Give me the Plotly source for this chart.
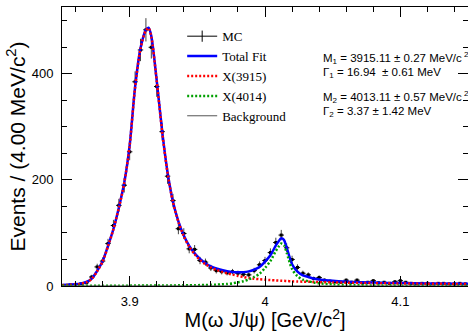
import plotly.graph_objects as go

# ---------------- data ----------------
bin_centers = [round(3.852 + 0.004 * k, 3) for k in range(75)]
mc_counts = [1, 2, 3, 4, 6, 17, 36, 47, 80, 114,
             152, 190, 253, 385, 445, 483, 450, 376, 291, 207,
             161, 108, 99, 70, 69, 48, 45, 34, 29, 27,
             25, 27, 24, 22, 21, 29, 40, 48, 63, 82,
             96, 72, 50, 35, 24, 21, 14, 16, 11, 9,
             8, 7, 11, 7, 11, 6, 7, 10, 6, 7,
             5, 8, 10, 7, 5, 4, 5, 5, 4, 5,
             5, 4, 4, 5, 4]

curve_x = [3.850, 3.856, 3.862, 3.868, 3.872, 3.876, 3.880, 3.884, 3.888, 3.892,
           3.896, 3.900, 3.904, 3.908, 3.912, 3.914, 3.916, 3.920, 3.924, 3.928,
           3.932, 3.936, 3.940, 3.944, 3.948, 3.952, 3.956, 3.960, 3.964, 3.968,
           3.972, 3.976, 3.980, 3.984, 3.988, 3.992, 3.996, 4.000, 4.004, 4.008,
           4.010, 4.012, 4.014, 4.016, 4.020, 4.024, 4.028, 4.032, 4.036, 4.040,
           4.050, 4.060, 4.080, 4.100, 4.120, 4.150]

x3915 = [1.5, 2.2, 3.5, 7.0, 13.5, 28, 46, 75, 107, 147,
         194, 265, 374, 447, 482, 486, 470, 386, 291, 213,
         158, 121, 94, 74, 60, 49, 41, 35, 30.5, 27,
         24, 21.5, 19, 17, 15, 13.8, 12.8, 12, 11.2, 10.5,
         10.2, 10, 9.7, 9.4, 8.8, 8.5, 8.2, 7.9, 7.6, 7.3,
         6.7, 6.2, 5.4, 4.8, 4.3, 3.8]

x4014 = [0.3, 0.3, 0.35, 0.4, 0.4, 0.45, 0.5, 0.5, 0.55, 0.6,
         0.65, 0.7, 0.75, 0.8, 0.85, 0.9, 0.9, 0.95, 1.0, 1.05,
         1.1, 1.2, 1.3, 1.4, 1.55, 1.7, 1.9, 2.2, 2.6, 3.1,
         3.8, 5, 7, 9, 12.5, 17, 23, 34, 47, 66,
         74, 80, 77, 63, 32, 18.5, 12, 9, 6.5, 5,
         3, 2, 1, 0.7, 0.5, 0.3]

total_fit = [1.9, 2.6, 3.9, 7.5, 14, 28.5, 46.5, 75.5, 107.5, 147.5,
             194.5, 265.5, 375, 448, 483, 487, 471, 387, 292, 214,
             159, 122, 95, 75.5, 61.5, 51, 43, 37, 33, 30,
             28, 26.5, 26, 26, 27.5, 31, 36, 46, 58, 76.5,
             84, 90, 87, 72.5, 41, 27, 20, 17, 14, 12.3,
             9.7, 8.2, 6.4, 5.5, 4.8, 4.1]

background = [0.2] * len(curve_x)

legend_names = ["MC", "Total Fit", "X(3915)", "X(4014)", "Background"]
fit_text = [
    "M<sub>1</sub> = 3915.11 ± 0.27 MeV/c<sup> 2</sup>",
    "Γ<sub>1</sub> = 16.94  ± 0.61 MeV",
    "M<sub>2</sub> = 4013.11 ± 0.57 MeV/c<sup> 2</sup>",
    "Γ<sub>2</sub> = 3.37 ± 1.42 MeV",
]
fit_text_y = [0.817, 0.765, 0.677, 0.625]

# ---------------- figure ----------------
fig = go.Figure()

fig.add_trace(go.Scatter(
    x=bin_centers, y=mc_counts, mode="markers", showlegend=False,
    marker=dict(symbol="square", size=3, color="black"),
    error_x=dict(type="constant", value=0.002, color="black", thickness=1, width=0),
    error_y=dict(type="sqrt", color="#444444", thickness=1, width=0),
))
# legend entry for MC (no data drawn)
fig.add_trace(go.Scatter(
    x=[None], y=[None], mode="lines+markers", name=legend_names[0],
    line=dict(color="black", width=1),
    marker=dict(symbol="line-ns", size=8, color="black", line=dict(width=1, color="black")),
))
fig.add_trace(go.Scatter(
    x=curve_x, y=total_fit, mode="lines", name=legend_names[1],
    line=dict(color="#0000ff", width=2.5, shape="spline", smoothing=0.8),
))
fig.add_trace(go.Scatter(
    x=curve_x, y=x3915, mode="lines", name=legend_names[2],
    line=dict(color="#ff0000", width=2.5, dash="2px,2px", shape="spline", smoothing=0.8),
))
fig.add_trace(go.Scatter(
    x=curve_x, y=x4014, mode="lines", name=legend_names[3],
    line=dict(color="#00a000", width=2.5, dash="2px,2px", shape="spline", smoothing=0.8),
))
fig.add_trace(go.Scatter(
    x=curve_x, y=background, mode="lines", name=legend_names[4],
    line=dict(color="#555555", width=1),
))

for t, yc in zip(fit_text, fit_text_y):
    fig.add_annotation(
        text=t, xref="paper", yref="paper", x=0.637, y=yc,
        xanchor="left", yanchor="middle", showarrow=False,
        font=dict(family="Liberation Sans, Arial, sans-serif", size=11.5, color="black"),
    )

axis_common = dict(
    showline=True, linecolor="black", linewidth=1, mirror="ticks",
    ticks="inside", ticklen=10, tickwidth=1, tickcolor="black",
    showgrid=False, zeroline=False,
    tickfont=dict(family="Liberation Sans, Arial, sans-serif", size=13, color="black"),
)

fig.update_xaxes(
    **axis_common, range=[3.85, 4.15], dtick=0.1, tick0=3.9,
    minor=dict(dtick=0.02, ticks="inside", ticklen=5, tickcolor="black", tickwidth=1),
    ticklabelstandoff=3,
    title=dict(text="M(ω J/ψ) [GeV/c<sup>2</sup>]", standoff=0,
               font=dict(family="Liberation Sans, Arial, sans-serif", size=20, color="black")),
)
fig.update_yaxes(
    **axis_common, range=[0, 526], dtick=200,
    minor=dict(dtick=50, ticks="inside", ticklen=5, tickcolor="black", tickwidth=1),
    ticklabelstandoff=5,
    title=dict(text="Events / (4.00 MeV/c<sup>2</sup>)", standoff=0,
               font=dict(family="Liberation Sans, Arial, sans-serif", size=21, color="black")),
)

fig.update_layout(
    width=468, height=331,
    margin=dict(l=62, r=0, t=7, b=45),
    paper_bgcolor="white", plot_bgcolor="white",
    font=dict(family="Liberation Sans, Arial, sans-serif", color="black"),
    legend=dict(
        x=0.296, y=0.949, xanchor="left", yanchor="top",
        bgcolor="rgba(0,0,0,0)", borderwidth=0, tracegroupgap=0,
        itemwidth=30, traceorder="normal",
        font=dict(family="Liberation Serif, Times New Roman, serif", size=13, color="black"),
    ),
    showlegend=True,
)

fig.write_html("out.html", config={"displayModeBar": False},
               post_script="document.body.style.margin='0px';")
